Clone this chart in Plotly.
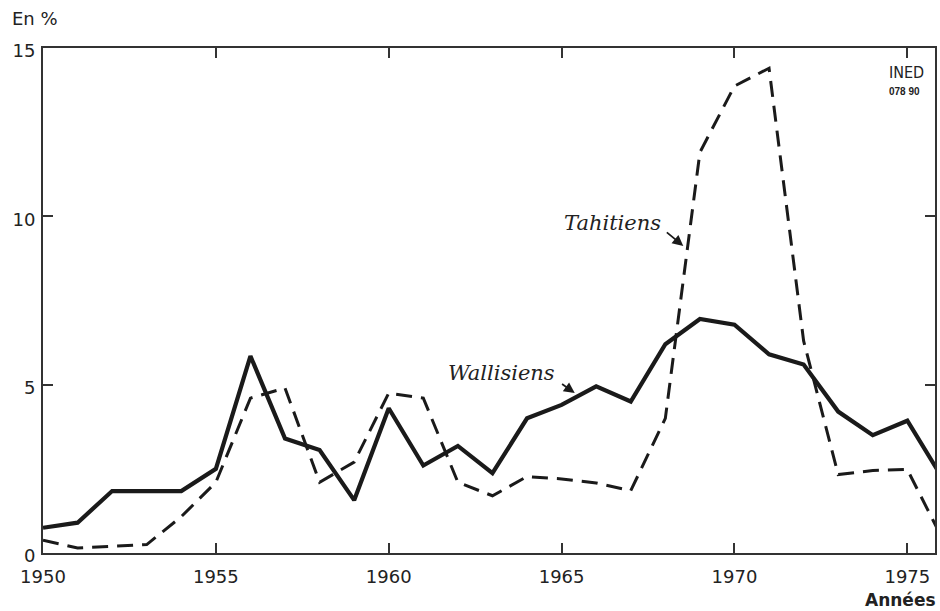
import plotly.graph_objects as go

years = [1950, 1951, 1952, 1953, 1954, 1955, 1956, 1957, 1958, 1959, 1960, 1961, 1962,
         1963, 1964, 1965, 1966, 1967, 1968, 1969, 1970, 1971, 1972, 1973, 1974, 1975, 1976]
wallisiens = [0.75, 0.9, 1.84, 1.84, 1.84, 2.5, 5.85, 3.4, 3.06, 1.57, 4.3, 2.6, 3.18,
              2.37, 4.0, 4.4, 4.95, 4.5, 6.2, 6.95, 6.78, 5.9, 5.6, 4.2, 3.5, 3.93, 2.25]
tahitiens = [0.38, 0.15, 0.2, 0.25, 1.08, 2.1, 4.6, 4.9, 2.1, 2.7, 4.75, 4.6, 2.1,
             1.7, 2.27, 2.2, 2.08, 1.85, 4.0, 11.9, 13.87, 14.4, 6.3, 2.33, 2.45, 2.48, 0.45]

x_ticks = [1950, 1955, 1960, 1965, 1970, 1975]
y_ticks = [0, 5, 10, 15]

ink = "#1a1a1a"
sans = "DejaVu Sans, Liberation Sans, Arial"

fig = go.Figure()
fig.add_trace(go.Scatter(x=years, y=tahitiens, mode="lines", name="Tahitiens",
                         line=dict(color=ink, width=3, dash="16px,9px")))
fig.add_trace(go.Scatter(x=years, y=wallisiens, mode="lines", name="Wallisiens",
                         line=dict(color=ink, width=4.2)))

axis_common = dict(showgrid=False, zeroline=False, showline=True, linecolor="#333",
                   linewidth=2, mirror="ticks", ticks="inside", ticklen=10,
                   tickwidth=1.5, tickcolor="#333",
                   tickfont=dict(family=sans, size=18, color="#222"))

fig.update_layout(
    width=940, height=611,
    margin=dict(l=43, r=3, t=48, b=58),
    paper_bgcolor="white", plot_bgcolor="white",
    showlegend=False,
    xaxis=dict(range=[1950, 1975.8], tickvals=x_ticks, ticktext=[str(v) for v in x_ticks],
               ticklabelstandoff=6, **axis_common),
    yaxis=dict(range=[0, 15], tickvals=y_ticks, ticktext=[str(v) for v in y_ticks],
               ticklabelstandoff=2, ticklabelshift=3, **axis_common),
)

serif_it = dict(family="DejaVu Serif, Liberation Serif", size=21, color="#222")

fig.add_annotation(x=1966.47, y=9.8, xref="x", yref="y", text="<i>Tahitiens</i>",
                   showarrow=False, font=serif_it)
fig.add_annotation(x=1968.52, y=9.12, ax=1968.0, ay=9.56, xref="x", yref="y",
                   axref="x", ayref="y", text="", showarrow=True, arrowhead=2,
                   arrowsize=1.2, arrowwidth=1.8, arrowcolor=ink)
fig.add_annotation(x=1963.27, y=5.35, xref="x", yref="y", text="<i>Wallisiens</i>",
                   showarrow=False, font=serif_it)
fig.add_annotation(x=1965.38, y=4.75, ax=1964.97, ay=5.05, xref="x", yref="y",
                   axref="x", ayref="y", text="", showarrow=True, arrowhead=2,
                   arrowsize=1.2, arrowwidth=1.8, arrowcolor=ink)

fig.add_annotation(xref="paper", yref="paper", x=-0.037, y=1.034, xanchor="left",
                   yanchor="bottom", text="En %", showarrow=False,
                   font=dict(family=sans, size=18, color="#222"))
fig.add_annotation(xref="paper", yref="paper", x=1.003, y=-0.07, xanchor="right",
                   yanchor="top", text="<b>Années</b>", showarrow=False,
                   font=dict(family=sans, size=17, color="#222"))
fig.add_annotation(xref="paper", yref="paper", x=0.968, y=0.975, xanchor="center",
                   yanchor="top", text="INED", showarrow=False,
                   font=dict(family="Liberation Sans Narrow, DejaVu Sans Condensed, Roboto", size=16,
                             color="#222"))
fig.add_annotation(xref="paper", yref="paper", x=0.966, y=0.928, xanchor="center",
                   yanchor="top", text="<b>078 90</b>", showarrow=False,
                   font=dict(family="Liberation Sans, Arial", size=10, color="#222"))

fig.write_html("out.html", config={"displayModeBar": False},
               post_script="document.body.style.margin='0';")
